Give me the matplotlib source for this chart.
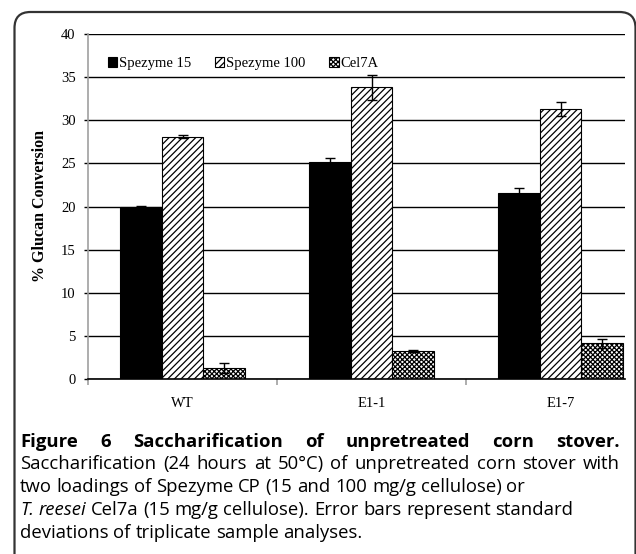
import matplotlib
matplotlib.use('Agg')
import numpy as np
import matplotlib.pyplot as plt
from matplotlib.patches import FancyBboxPatch
from matplotlib.transforms import IdentityTransform

# Data
categories = ['WT', 'E1-1', 'E1-7']
series_names = ['Spezyme 15', 'Spezyme 100', 'Cel7A']
spezyme15 = [19.9, 25.2, 21.6]
spezyme15_err = [0.2, 0.4, 0.55]
spezyme100 = [28.1, 33.8, 31.3]
spezyme100_err = [0.2, 1.4, 0.8]
cel7a = [1.25, 3.25, 4.15]
cel7a_err = [0.6, 0.1, 0.5]
yticks = [0, 5, 10, 15, 20, 25, 30, 35, 40]

caption_lines = [
    ('Figure 6 Saccharification of unpretreated corn stover.', 'bold', True),
    ('Saccharification (24 hours at 50\u00b0C) of unpretreated corn stover with', 'normal', True),
    ('two loadings of Spezyme CP (15 and 100 mg/g cellulose) or', 'normal', False),
    (None, 'normal', False),
    ('deviations of triplicate sample analyses.', 'normal', False),
]

W, H = 636, 554
plt.rcParams['hatch.linewidth'] = 0.9
fig = plt.figure(figsize=(W / 100, H / 100), dpi=100)

# rounded frame, cut off at the bottom like the source
frame = FancyBboxPatch((14.5, -60), 621, H - 12 + 60,
                       boxstyle='round,pad=0,rounding_size=16',
                       transform=IdentityTransform(), fill=False,
                       edgecolor='#333333', linewidth=1.6)
fig.patches.append(frame)

# axes in pixel coordinates
ax_l, ax_r, ax_t, ax_b = 88, 625, 34, 379
ax = fig.add_axes([ax_l / W, 1 - ax_b / H, (ax_r - ax_l) / W, (ax_b - ax_t) / H])

x = np.arange(len(categories))
bw = 0.222
errkw = dict(ecolor='black', elinewidth=1.0, capsize=3.5, capthick=1.0)
ax.bar(x - bw, spezyme15, bw, yerr=spezyme15_err, color='black',
       edgecolor='black', linewidth=0.8, label=series_names[0], zorder=3, error_kw=errkw)
ax.bar(x, spezyme100, bw, yerr=spezyme100_err, color='white', hatch='/////',
       edgecolor='black', linewidth=0.8, label=series_names[1], zorder=3, error_kw=errkw)
ax.bar(x + bw, cel7a, bw, yerr=cel7a_err, color='white', hatch='xxxxxxx',
       edgecolor='black', linewidth=0.8, label=series_names[2], zorder=3, error_kw=errkw)

ax.set_ylim(0, 40)
ax.set_xlim(-0.5, -0.5 + (ax_r - ax_l) / 189.0)
ax.set_yticks(yticks)
ax.yaxis.grid(True, color='black', linewidth=1.0, zorder=0)
ax.set_axisbelow(True)
for s in ['top', 'right']:
    ax.spines[s].set_visible(False)
ax.spines['left'].set_color('#a0a0a0')
ax.spines['left'].set_linewidth(1.2)
ax.spines['bottom'].set_color('black')
ax.spines['bottom'].set_linewidth(1.2)
ax.spines['bottom'].set_zorder(4)

ax.tick_params(axis='y', length=3, width=1.0, color='black', pad=6, labelsize=10.5)
for lab in ax.get_yticklabels():
    lab.set_family('Liberation Serif')
ax.set_xticks([-0.5, 0.5, 1.5])
ax.set_xticklabels([])
ax.tick_params(axis='x', length=4, width=1.2, color='#a0a0a0')
for xi, c in zip(x, categories):
    ax.text(xi, -0.07, c, transform=ax.get_xaxis_transform(), ha='center', va='center',
            fontsize=10.5, family='Liberation Serif')

ax.set_ylabel('% Glucan Conversion', fontsize=11.5, fontweight='bold',
              family='Liberation Serif', labelpad=9)

leg = ax.legend(loc='upper left', bbox_to_anchor=(0.012, 0.97), ncol=3, frameon=False,
                prop={'family': 'Liberation Serif', 'size': 10.5},
                handlelength=0.65, handleheight=0.65, handletextpad=0.15,
                columnspacing=1.6)

# caption, justified where the source is justified
fig.canvas.draw()
renderer = fig.canvas.get_renderer()
left_px, right_px = 20, 620
baselines = [447, 469, 492, 515, 538]
cap_size = 13.3


def put_words(words, y_px, weight, justify, styles=None):
    texts = []
    for i, w in enumerate(words):
        st = styles[i] if styles else 'normal'
        t = fig.text(0, 1 - y_px / H, w, fontsize=cap_size, fontweight=weight,
                     style=st, family='Open Sans', va='baseline', ha='left')
        texts.append(t)
    widths = [t.get_window_extent(renderer).width for t in texts]
    space = fig.text(0, 0, 'a a', fontsize=cap_size, family='Open Sans')
    aa = fig.text(0, 0, 'aa', fontsize=cap_size, family='Open Sans')
    sp = space.get_window_extent(renderer).width - aa.get_window_extent(renderer).width
    space.remove()
    aa.remove()
    if justify and len(words) > 1:
        gap = (right_px - left_px - sum(widths)) / (len(words) - 1)
    else:
        gap = sp
    xpos = left_px
    for t, w in zip(texts, widths):
        t.set_x(xpos / W)
        xpos += w + gap


for i, (line, weight, justify) in enumerate(caption_lines):
    if line is None:
        words = ['T.', 'reesei', 'Cel7a', '(15', 'mg/g', 'cellulose).', 'Error', 'bars',
                 'represent', 'standard']
        styles = ['italic', 'italic'] + ['normal'] * 8
        put_words(words, baselines[i], weight, False, styles)
    else:
        put_words(line.split(' '), baselines[i], weight, justify)

fig.savefig('out.png', dpi=100)
